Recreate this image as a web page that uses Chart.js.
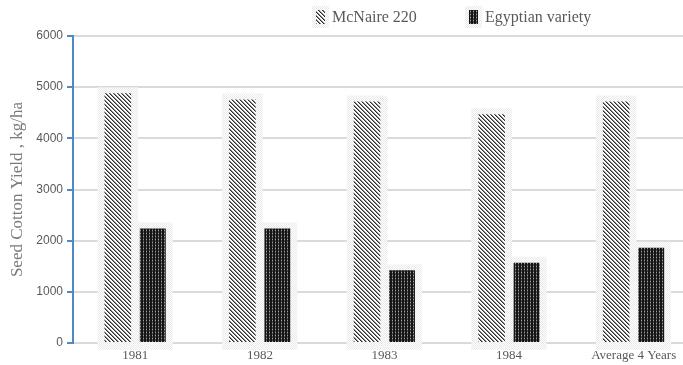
<!DOCTYPE html>
<html>
<head>
  <title>Seed Cotton Yield</title>
  <style>
    body {
      margin: 0;
      padding: 0;
      background: #fff;
      overflow: hidden;
    }
    #wrap {
      width: 700px;
      height: 365px;
    }
  </style>
</head>
<body>

<div id="wrap">
  <canvas id="myChart" width="700" height="365"></canvas>
</div>

<script src="https://cdn.jsdelivr.net/npm/chart.js"></script>
<script>
  // values
  const categories = ['1981', '1982', '1983', '1984', 'Average 4 Years'];
  const mcnaire = [4880, 4760, 4720, 4470, 4720];
  const egyptian = [2240, 2240, 1420, 1570, 1860];
  const yTicks = [0, 1000, 2000, 3000, 4000, 5000, 6000];
  const seriesNames = ['McNaire 220', 'Egyptian variety'];

  function tile(size, paint) {
    const c = document.createElement('canvas');
    c.width = size;
    c.height = size;
    const g = c.getContext('2d');
    paint(g);
    return g.createPattern(c, 'repeat');
  }

  // diagonal hatch, "\" direction
  const hatchFill = tile(4, g => {
    g.fillStyle = '#fff';
    g.fillRect(0, 0, 4, 4);
    for (let i = 0; i < 4; i++) {
      g.fillStyle = '#2b2b2b';
      g.fillRect(i, i, 1, 1);
      g.fillStyle = '#8c8c8c';
      g.fillRect((i + 1) % 4, i, 1, 1);
    }
  });

  // near-black with a grid of pale dots
  const denseFill = tile(3, g => {
    g.fillStyle = '#151515';
    g.fillRect(0, 0, 3, 3);
    g.fillStyle = '#4a4a4a';
    g.fillRect(2, 0, 1, 3);
    g.fillStyle = '#a0a0a0';
    g.fillRect(2, 2, 1, 1);
  });

  // pale stipple frame round each bar
  const haloFill = tile(2, g => {
    g.fillStyle = '#fff';
    g.fillRect(0, 0, 2, 2);
    g.fillStyle = '#e9e9e9';
    g.fillRect(0, 0, 1, 1);
    g.fillRect(1, 1, 1, 1);
  });

  const haloPlugin = {
    id: 'halo',
    beforeDatasetsDraw(chart) {
      const ctx = chart.ctx;
      ctx.save();
      ctx.fillStyle = haloFill;
      chart.data.datasets.forEach((ds, i) => {
        chart.getDatasetMeta(i).data.forEach(bar => {
          const w = bar.width;
          ctx.fillRect(bar.x - w / 2 - 7, bar.y - 6, w + 14, bar.base - bar.y + 14);
        });
      });
      ctx.restore();
    }
  };

  // legend drawn by hand so the two items can sit apart like the original
  const legendPlugin = {
    id: 'sideLegend',
    afterDraw(chart) {
      const ctx = chart.ctx;
      const starts = [316, 469];
      const y = 17;
      ctx.save();
      ctx.font = '16px "Liberation Serif", serif';
      ctx.textBaseline = 'middle';
      chart.data.datasets.forEach((ds, i) => {
        const x = starts[i];
        ctx.fillStyle = haloFill;
        ctx.fillRect(x - 4, y - 11, 17, 22);
        ctx.fillStyle = ds.backgroundColor;
        ctx.fillRect(x, y - 7, 9, 14);
        ctx.fillStyle = '#595959';
        ctx.fillText(ds.label, x + 16, y + 1);
      });
      ctx.restore();
    }
  };

  const ctx = document.getElementById('myChart').getContext('2d');
  const myChart = new Chart(ctx, {
    type: 'bar',
    data: {
      labels: categories,
      datasets: [{
        label: seriesNames[0],
        data: mcnaire,
        backgroundColor: hatchFill,
        borderWidth: 0,
        categoryPercentage: 0.562,
        barPercentage: 0.76
      }, {
        label: seriesNames[1],
        data: egyptian,
        backgroundColor: denseFill,
        borderWidth: 0,
        categoryPercentage: 0.562,
        barPercentage: 0.74
      }]
    },
    options: {
      responsive: false,
      animation: false,
      devicePixelRatio: 1,
      layout: {
        padding: { top: 36, right: 4, bottom: 0, left: 0 }
      },
      plugins: {
        legend: { display: false },
        tooltip: { enabled: false }
      },
      scales: {
        x: {
          grid: { display: false, drawTicks: false },
          border: { display: false },
          ticks: {
            color: '#595959',
            padding: 5,
            font: { family: '"Liberation Serif", serif', size: 13 }
          },
          afterFit: scale => { scale.height = 22; }
        },
        y: {
          min: 0,
          max: 6000,
          afterBuildTicks: scale => {
            scale.ticks = yTicks.map(v => ({ value: v }));
          },
          grid: {
            color: '#dadada',
            lineWidth: 2,
            tickColor: '#4f88c6',
            tickLength: 6,
            tickWidth: 2
          },
          border: {
            color: '#4f88c6',
            width: 2
          },
          ticks: {
            color: '#595959',
            padding: 4,
            callback: v => String(v),
            font: { family: '"Liberation Sans", Arial, sans-serif', size: 12 }
          },
          title: {
            display: true,
            text: 'Seed Cotton Yield , kg/ha',
            color: '#7a7a7a',
            padding: { top: 7, bottom: 0 },
            font: { family: '"Liberation Serif", serif', size: 17 }
          },
          afterFit: scale => { scale.width = 73; }
        }
      }
    },
    plugins: [haloPlugin, legendPlugin]
  });
</script>
</body>
</html>
